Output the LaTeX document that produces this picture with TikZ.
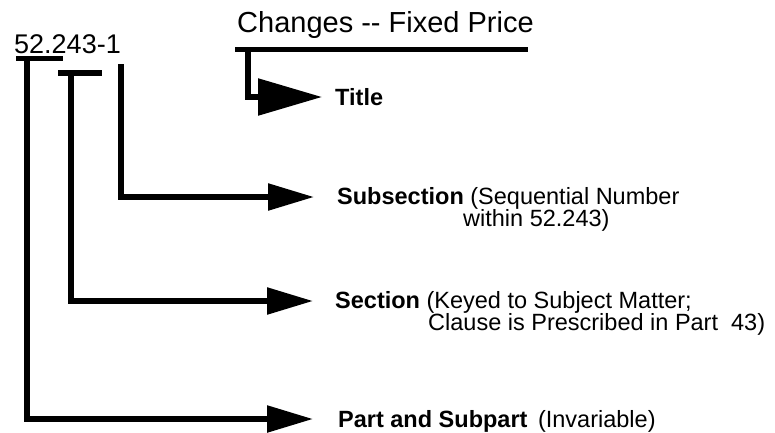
\documentclass[tikz,border=0pt]{standalone}
\usepackage{fontspec}
\setmainfont{Liberation Sans}
\usetikzlibrary{arrows.meta}

\begin{document}
\begin{tikzpicture}[x=1pt,y=-1pt]
    \tikzset{head/.style = {anchor=base west, inner sep=0pt, font=\fontsize{28}{30}\selectfont}}
    \tikzset{lbl/.style = {anchor=base west, inner sep=0pt, font=\fontsize{23.5}{22}\selectfont}}
    \tikzset{bar/.style = {draw, line width=5.5pt}}
    \tikzset{conn/.style = {draw, line width=5.5pt, -{Triangle[length=46pt,width=26pt]}}}

    \useasboundingbox (0,0) rectangle (775,432);

    % clause number and name
    \node[head, font=\fontsize{27}{30}\selectfont] (num) at (14,53) {52.243-1};
    \node[head, font=\fontsize{29}{30}\selectfont] (name) at (237,32) {Changes -{}- Fixed Price};

    % bars
    \coordinate (partL) at (16,58.5);  \coordinate (partR) at (63,58.5);
    \coordinate (secL) at (58,73);     \coordinate (secR) at (102,73);
    \coordinate (nameL) at (235,49.5); \coordinate (nameR) at (528,49.5);
    \coordinate (parttop) at (27,58.5);
    \coordinate (sectop) at (71,73);
    \coordinate (subtop) at (121,64);
    \coordinate (ttltop) at (248,49.5);
    \draw[bar] (partL) -- (partR);
    \draw[bar] (secL) -- (secR);
    \draw[bar] (nameL) -- (nameR);

    % arrow tips
    \coordinate (ttltip) at (322,97);
    \coordinate (subtip) at (314,197);
    \coordinate (sectip) at (313,301);
    \coordinate (parttip) at (313,419);

    % labels
    \node[lbl] (ttl) at (335,105) {\textbf{Title}};
    \node[lbl] (sub) at (337,204) {\textbf{Subsection} (Sequential Number};
    \node[lbl] (sub2) at (463,226) {within 52.243)};
    \node[lbl] (sec) at (335,308) {\textbf{Section} (Keyed to Subject Matter;};
    \node[lbl] (sec2) at (428,330) {Clause is Prescribed in Part\ \ 43)};
    \node[lbl] (part) at (338,427) {\textbf{Part and Subpart}\hspace{4pt} (Invariable)};

    % connectors
    \draw[conn, -{Triangle[length=64pt,width=36pt]}] (ttltop) |- (ttltip);
    \draw[conn] (subtop) |- (subtip);
    \draw[conn] (sectop) |- (sectip);
    \draw[conn] (parttop) |- (parttip);
\end{tikzpicture}
\end{document}
